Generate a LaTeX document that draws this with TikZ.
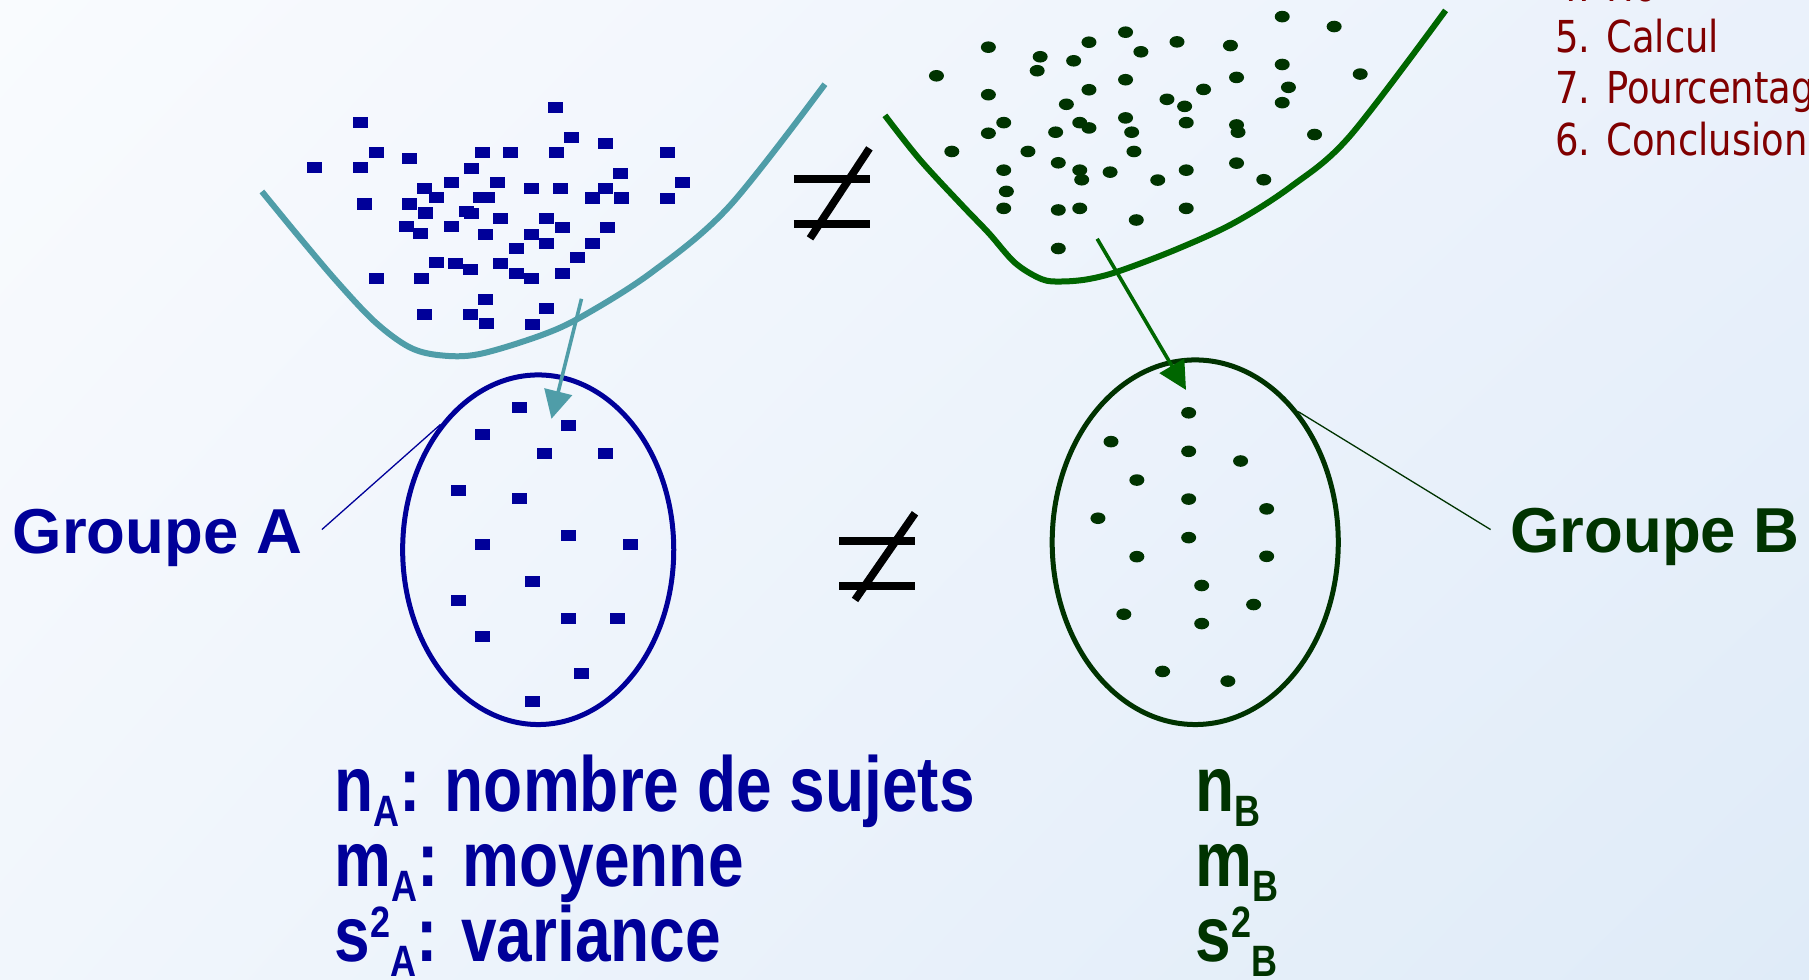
\documentclass[tikz,border=0pt]{standalone}
\usepackage{fontspec}
\usepackage{graphicx}
\setmainfont{Liberation Sans}
\newfontfamily\redfont{DejaVu Sans}
\usetikzlibrary{arrows.meta,shapes.geometric,shadings}
\definecolor{blueA}{HTML}{000099}
\definecolor{tealA}{HTML}{4F9DA8}
\definecolor{greenB}{HTML}{003300}
\definecolor{greenC}{HTML}{006600}
\definecolor{redT}{HTML}{800000}
\definecolor{bgA}{HTML}{F9FBFE}
\definecolor{bgB}{HTML}{EAF1FB}
\definecolor{bgC}{HTML}{F1F6FC}
\definecolor{bgD}{HTML}{DFEBF8}
\newcommand\subx[1]{\raisebox{-0.2em}{\fontsize{36}{36}\selectfont #1}}
\newcommand\supx[1]{\raisebox{0.3em}{\fontsize{36}{36}\selectfont #1}}
\tikzset{
  txt/.style={inner sep=0pt, anchor=base west},
  bigA/.style={txt, text=blueA, font=\bfseries\fontsize{63.5}{63.5}\selectfont},
  bigB/.style={txt, text=greenB, font=\bfseries\fontsize{63.5}{63.5}\selectfont},
  statA/.style={txt, text=blueA, font=\bfseries\fontsize{64}{64}\selectfont},
  statB/.style={txt, text=greenB, font=\bfseries\fontsize{64}{64}\selectfont},
  redlist/.style={txt, text=redT, font=\redfont\fontsize{44}{44}\selectfont},
  curveA/.style={draw=tealA, line width=6pt, line cap=butt},
  curveB/.style={draw=greenC, line width=6pt, line cap=butt},
  arrA/.style={draw=tealA, fill=tealA, line width=3.6pt, -{Triangle[length=28pt,width=28pt]}},
  arrB/.style={draw=greenC, fill=greenC, line width=3.6pt, -{Triangle[length=28pt,width=28pt]}},
  neq/.style={draw=black, line width=7.7pt},
  leader/.style={line width=1.3pt},
}
\begin{document}
\begin{tikzpicture}[x=1.1537pt, y=-1.1537pt]
\useasboundingbox (0,0) rectangle (1568,849);
\clip (0,0) rectangle (1568,849);
\shade[upper left=bgA, upper right=bgB, lower left=bgC, lower right=bgD] (0,0) rectangle (1568,849);

% red list (top right)
\node[redlist] (r4) at (1348,1.2) {\scalebox{0.84}[1]{4. Ho}};
\node[redlist] (r5) at (1348,45.7) {\scalebox{0.84}[1]{5. Calcul}};
\node[redlist] (r7) at (1348,90.1) {\scalebox{0.84}[1]{7. Pourcentage}};
\node[redlist] (r6) at (1348,134.4) {\scalebox{0.84}[1]{6. Conclusion}};

% population A (top left)
\foreach \x/\y in {312.6/106.0, 481.8/93.0, 495.5/118.9, 525.1/124.7, 326.0/131.9, 355.3/137.6, 417.9/131.9, 442.8/131.9, 482.1/131.9, 578.4/132.5, 273.0/144.8, 312.6/144.8, 408.5/145.7, 538.1/150.6, 391.6/157.8, 430.9/157.8, 591.4/158.4, 368.2/163.3, 460.8/163.6, 485.5/163.6, 525.1/163.6, 378.2/171.3, 416.9/171.3, 422.5/171.3, 513.8/171.6, 538.4/171.6, 578.4/171.9, 316.0/176.8, 355.3/176.8, 368.9/184.6, 404.2/183.7, 408.5/184.9, 434.2/189.5, 473.8/189.5, 352.3/196.7, 364.9/202.2, 391.6/196.7, 421.2/203.0, 460.8/203.0, 487.5/197.5, 526.8/197.5, 474.1/210.8, 513.8/210.8, 447.5/215.7, 500.4/223.5, 378.2/227.8, 394.9/228.6, 407.9/233.8, 434.2/228.6, 447.8/236.7, 460.8/241.6, 487.5/236.7, 326.0/241.3, 365.3/241.3, 420.9/259.8, 474.1/267.8, 368.2/273.0, 407.9/272.7, 421.5/280.8, 461.2/281.1}
  \fill[blueA] (\x-6.5,\y-4.8) rectangle ++(13,9.6);
\draw[curveA] plot[smooth, tension=0.55] coordinates {(227,166) (259,205) (292,244) (325,279) (355,301) (382,308) (415,307) (468,291) (505,274) (565,236) (632,179) (715,73)};

% population B (top right)
\foreach \x/\y in {1111.4/14.4, 1156.4/23.0, 975.6/27.9, 943.9/36.6, 1020.2/36.3, 856.7/40.9, 1066.5/39.5, 901.6/49.2, 988.9/44.9, 930.6/52.7, 899.0/61.3, 811.7/65.7, 1111.4/55.9, 975.6/69.1, 1071.8/67.1, 1179.0/64.2, 943.9/77.8, 1043.2/77.5, 856.7/82.1, 1116.8/75.7, 924.3/90.4, 1011.5/86.1, 1026.8/92.2, 1111.4/89.0, 975.6/102.2, 870.0/106.3, 935.9/106.3, 943.9/110.9, 1028.2/106.3, 1071.8/108.3, 856.7/115.5, 915.0/114.6, 980.9/114.6, 1073.1/114.6, 1139.4/116.6, 825.0/131.3, 891.0/131.3, 982.9/131.3, 917.3/141.1, 870.0/147.5, 935.9/147.5, 937.6/155.8, 962.2/149.2, 1028.2/147.5, 1071.8/141.4, 1003.5/156.1, 1095.4/155.8, 872.3/165.9, 870.0/180.6, 917.3/182.0, 935.9/180.6, 1028.2/180.6, 984.9/190.7, 917.3/215.4}
  \fill[greenB] (\x,\y) ellipse [x radius=7.5pt, y radius=5.8pt];
\draw[curveB] plot[smooth, tension=0.55] coordinates {(767,100) (797,138) (833,177) (857,202) (880,228) (903,242) (920,244) (943,242) (970,235) (1020,216) (1070,193) (1120,161) (1170,118) (1253,9)};

% not-equal signs
\draw[neq] (688,155) -- (754,155);
\draw[neq] (688,194) -- (754,194);
\draw[neq] (753.6,128.6) -- (702.1,206.6);
\draw[neq] (727.5,469.2) -- (793.1,469.2);
\draw[neq] (727.5,508.2) -- (793.1,508.2);
\draw[neq] (793.1,444.9) -- (741.1,520.0);

% samples
\node[ellipse, draw=blueA, line width=5pt, minimum width=271.1pt, minimum height=349.6pt, inner sep=0pt] (ellA) at (466.5,476.5) {};
\node[ellipse, draw=greenB, line width=5pt, minimum width=286.1pt, minimum height=364.6pt, inner sep=0pt] (ellB) at (1036,470) {};

\foreach \x/\y in {450.5/353.1, 418.3/376.9, 493.1/368.8, 471.7/392.9, 525.0/392.9, 397.1/424.8, 450.5/432.3, 418.3/472.3, 493.1/464.5, 546.2/472.3, 461.2/504.2, 397.1/520.2, 493.1/536.1, 535.5/536.1, 418.3/552.1, 503.6/584.0, 461.2/607.8}
  \fill[blueA] (\x-6.5,\y-4.8) rectangle ++(13,9.6);
\foreach \x/\y in {1030.3/357.8, 963.0/382.8, 1030.3/391.2, 1075.3/399.6, 985.4/416.1, 1030.3/432.6, 1097.9/441.1, 951.7/449.2, 1030.3/466.0, 985.4/482.5, 1097.9/482.2, 1041.6/507.5, 974.1/532.4, 1086.6/524.0, 1041.6/540.5, 1007.7/582.0, 1064.3/590.4}
  \fill[greenB] (\x,\y) ellipse [x radius=7.5pt, y radius=5.8pt];

% sampling arrows
\coordinate (tA0) at (504,259);
\coordinate (tA1) at (478,363);
\coordinate (gB0) at (951,207);
\coordinate (gB1) at (1028,338);
\draw[arrA] (tA0) -- (tA1);
\draw[arrB] (gB0) -- (gB1);

% group labels
\node[bigA] (grpA) at (11,480) {Groupe A};
\node[bigB] (grpB) at (1309,479) {Groupe B};
\coordinate (lA) at (279,459);
\coordinate (lB) at (1292,459);
\draw[leader, blueA] (lA) -- (ellA.north west);
\draw[leader, greenB] (lB) -- (ellB.north east);

% statistics
\node[statA] (nA) at (290,703) {\scalebox{1}[1.22]{n\subx{A}: nombre de sujets}};
\node[statA] (mA) at (290,768) {\scalebox{1}[1.22]{m\subx{A}: moyenne}};
\node[statA] (sA) at (290,833) {\scalebox{1}[1.22]{s\supx{2}\subx{A}: variance}};
\node[statB] (nB) at (1036,703) {\scalebox{1}[1.22]{n\subx{B}}};
\node[statB] (mB) at (1036,768) {\scalebox{1}[1.22]{m\subx{B}}};
\node[statB] (sB) at (1036,833) {\scalebox{1}[1.22]{s\supx{2}\subx{B}}};
\end{tikzpicture}
\end{document}
